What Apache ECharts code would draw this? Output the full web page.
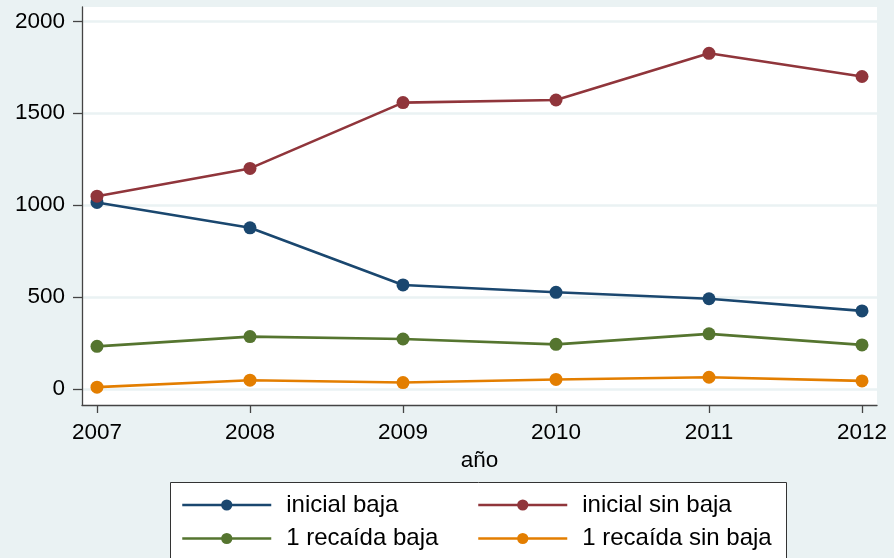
<!DOCTYPE html>
<html>
<head>
<meta charset="utf-8">
<script src="https://cdn.jsdelivr.net/npm/echarts@6/dist/echarts.min.js"></script>
<style>
html,body{margin:0;padding:0;background:#eaf2f3;}
#c{width:894px;height:558px;}
</style>
</head>
<body>
<div id="c"></div>
<script>
const years = [2007, 2008, 2009, 2010, 2011, 2012];
const yTicks = [0, 500, 1000, 1500, 2000];
const inicialBaja = [1015, 877, 566, 526, 491, 425];
const inicialSinBaja = [1049, 1200, 1558, 1572, 1826, 1700];
const recaidaBaja = [232, 285, 272, 243, 300, 240];
const recaidaSinBaja = [10, 48, 35, 52, 64, 44];
const seriesNames = ['inicial baja', 'inicial sin baja', '1 recaída baja', '1 recaída sin baja'];
const seriesColors = ['#1a476f', '#90353b', '#55752f', '#e37e00'];
const seriesData = [inicialBaja, inicialSinBaja, recaidaBaja, recaidaSinBaja];

const font = 'Liberation Sans, Arial, sans-serif';
const chart = echarts.init(document.getElementById('c'), null, {renderer: 'canvas'});

const legendText = {fontFamily: font, fontSize: 24, lineHeight: 24, color: '#000', padding: [0, 0, 0, 10]};
const legendPos = [[181, 493], [477, 493], [181, 526.5], [477, 526.5]];
const option = {
  backgroundColor: '#eaf2f3',
  animation: false,
  grid: {left: 82, right: 17, top: 7, bottom: 153, show: true, backgroundColor: '#ffffff', borderWidth: 0},
  xAxis: {
    type: 'value', min: 2006.902, max: 2012.098,
    name: 'año', nameLocation: 'middle', nameGap: 38,
    nameTextStyle: {fontFamily: font, fontSize: 22.5, color: '#000'},
    axisLine: {show: true, onZero: false, lineStyle: {color: '#444', width: 1.3}},
    axisTick: {show: true, length: 8, customValues: years, lineStyle: {color: '#444', width: 1.3}},
    axisLabel: {customValues: years, margin: 16, fontFamily: font, fontSize: 22.5, color: '#000', formatter: v => String(v)},
    splitLine: {show: false}
  },
  yAxis: {
    type: 'value', min: -87, max: 2078,
    axisLine: {show: true, lineStyle: {color: '#444', width: 1.3}},
    axisTick: {show: true, length: 9, customValues: yTicks, lineStyle: {color: '#444', width: 1.3}},
    axisLabel: {customValues: yTicks, margin: 17, fontFamily: font, fontSize: 22.5, color: '#000', formatter: v => String(v)},
    splitLine: {show: true, lineStyle: {color: '#eaf2f3', width: 2.5}}
  },
  legend: seriesNames.map((n, i) => ({
    orient: 'horizontal', left: legendPos[i][0], top: legendPos[i][1], padding: 0,
    itemWidth: 89, itemHeight: 14,
    lineStyle: {width: 2.5},
    data: [n], textStyle: legendText
  })),
  graphic: [{
    type: 'rect', z: -1, silent: true,
    shape: {x: 170.5, y: 482.5, width: 616, height: 100},
    style: {fill: '#ffffff', stroke: '#333', lineWidth: 1}
  }],
  series: seriesNames.map((n, i) => ({
    name: n, type: 'line',
    data: years.map((y, j) => [y, seriesData[i][j]]),
    symbol: 'circle', symbolSize: 13,
    lineStyle: {color: seriesColors[i], width: 2.6},
    itemStyle: {color: seriesColors[i]}
  }))
};
chart.setOption(option);
</script>
</body>
</html>
